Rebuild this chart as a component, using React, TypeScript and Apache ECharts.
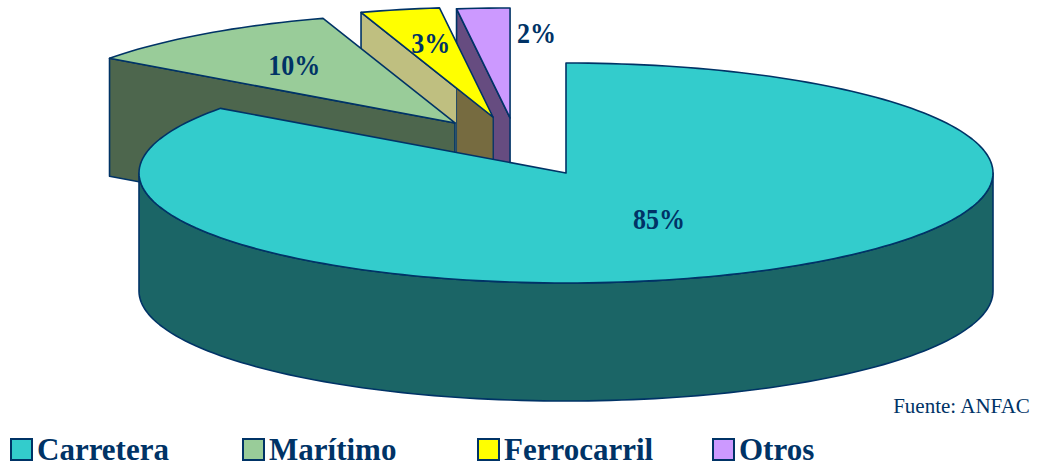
import React, { useEffect, useRef } from "react";
import * as echarts from "echarts";

// ---- data ----
const categories = ["Carretera", "Marítimo", "Ferrocarril", "Otros"];
const shares = [85, 10, 3, 2];
const sliceLabels = ["85%", "10%", "3%", "2%"];
const sourceNote = "Fuente: ANFAC";

// ---- styles ----
const topColors = ["#33CCCC", "#99CC99", "#FFFF00", "#CC99FF"];
const sideColors = ["#1B6566", "#4D664D", "#BFBF80", "#664C80"];
const overlapShade: (string | null)[] = [null, null, "#766B40", null];
const NAVY = "#003366";
const FONT = "'Liberation Serif', 'Times New Roman', serif";

// ---- layout of the 3D pie (pixels / fractions of radius) ----
const CX = 566;
const CY = 173;
const RX = 427;
const RY = 110;
const DEPTH = 118;
const EXPLODE = [
  [0, 0],
  [-0.26, -0.455],
  [-0.171, -0.509],
  [-0.131, -0.5],
];
const LABEL_FRAC = [0.48, 0.64, 0.69, 0.77];
const LABEL_SHIFT = [
  [0, 0],
  [0, 0],
  [2, 1],
  [47, 0],
];
const LEGEND_LEFT = [10, 242, 477, 712];

const rad = (a: number) => (a * Math.PI) / 180;
const total = shares.reduce((s, v) => s + v, 0);

function sliceAngles(i: number) {
  let before = 0;
  for (let j = 0; j < i; j++) before += shares[j];
  return [(before / total) * 360, ((before + shares[i]) / total) * 360];
}

function origin(i: number) {
  return [CX + EXPLODE[i][0] * RX, CY + EXPLODE[i][1] * RY];
}

function pt(o: number[], a: number, dy = 0) {
  return [o[0] + RX * Math.sin(rad(a)), o[1] - RY * Math.cos(rad(a)) + dy];
}

function arc(o: number[], a0: number, a1: number, dy = 0) {
  const pts: number[][] = [];
  const n = Math.max(2, Math.ceil(Math.abs(a1 - a0) / 1.5));
  for (let k = 0; k <= n; k++) pts.push(pt(o, a0 + ((a1 - a0) * k) / n, dy));
  return pts;
}

function makeRender(i: number) {
  return (_params: any, _api: any) => {
    const [a0, a1] = sliceAngles(i);
    const o = origin(i);
    const children: any[] = [];
    const stroke = { stroke: NAVY, lineWidth: 1.6, lineJoin: "round" };
    let z = 1;

    // start radial face
    if (Math.cos(rad(a0 - 90)) < -1e-6) {
      const p = pt(o, a0);
      children.push({
        type: "polygon",
        z2: z++,
        shape: { points: [o, p, [p[0], p[1] + DEPTH], [o[0], o[1] + DEPTH]] },
        style: { fill: sideColors[i], ...stroke },
      });
      const shade = overlapShade[i];
      if (shade && i + 1 < shares.length) {
        const [n0] = sliceAngles(i + 1);
        const xs = pt(origin(i + 1), n0)[0];
        const xl = p[0];
        const xr = o[0];
        if (xs > Math.min(xl, xr) && xs < Math.max(xl, xr)) {
          const ys = p[1] + ((o[1] - p[1]) * (xs - xl)) / (xr - xl);
          children.push({
            type: "polygon",
            z2: z++,
            shape: { points: [[xs, ys], o, [o[0], o[1] + DEPTH], [xs, ys + DEPTH]] },
            style: { fill: shade, stroke: NAVY, lineWidth: 0.8 },
          });
        }
      }
    }
    // end radial face
    if (Math.cos(rad(a1 + 90)) < -1e-6) {
      const p = pt(o, a1);
      children.push({
        type: "polygon",
        z2: z++,
        shape: { points: [o, p, [p[0], p[1] + DEPTH], [o[0], o[1] + DEPTH]] },
        style: { fill: sideColors[i], ...stroke },
      });
    }
    // curved outer side (front half only)
    const b0 = Math.max(a0, 90);
    const b1 = Math.min(a1, 270);
    if (b1 > b0) {
      const pts = arc(o, b0, b1).concat(arc(o, b1, b0, DEPTH));
      children.push({
        type: "polygon",
        z2: z++,
        shape: { points: pts },
        style: { fill: sideColors[i], ...stroke },
      });
    }
    // top surface
    children.push({
      type: "polygon",
      z2: z++,
      shape: { points: [o].concat(arc(o, a0, a1)) },
      style: { fill: topColors[i], ...stroke },
    });
    // label
    const mid = (a0 + a1) / 2;
    const f = LABEL_FRAC[i];
    children.push({
      type: "text",
      z2: 50,
      x: o[0] + RX * f * Math.sin(rad(mid)) + LABEL_SHIFT[i][0],
      y: o[1] - RY * f * Math.cos(rad(mid)) + LABEL_SHIFT[i][1],
      scaleY: 1.1,
      style: {
        text: sliceLabels[i],
        fill: NAVY,
        fontSize: 26,
        fontWeight: "bold",
        fontFamily: FONT,
        align: "center",
        verticalAlign: "middle",
      },
    });
    return { type: "group", children };
  };
}

export default function App() {
  const ref = useRef<HTMLDivElement>(null);
  useEffect(() => {
    if (!ref.current) return;
    const chart = echarts.init(ref.current, undefined, { renderer: "svg" });
    chart.setOption({
      animation: false,
      backgroundColor: "#FFFFFF",
      title: {
        text: sourceNote,
        right: 4,
        top: 390,
        textStyle: {
          color: NAVY,
          fontSize: 21,
          fontWeight: "normal",
          fontFamily: FONT,
        },
      },
      legend: categories.map((name, i) => ({
        left: LEGEND_LEFT[i],
        top: 434,
        padding: 0,
        icon: "rect",
        itemWidth: 21,
        itemHeight: 21,
        selectedMode: false,
        data: [name],
        itemStyle: { borderColor: NAVY, borderWidth: 2 },
        textStyle: {
          color: NAVY,
          fontSize: 31,
          lineHeight: 28,
          fontWeight: "bold",
          fontFamily: FONT,
        },
      })),
      series: categories.map((name, i) => ({
        type: "custom",
        name,
        coordinateSystem: "none",
        z: 10 - i,
        itemStyle: { color: topColors[i] },
        data: [shares[i]],
        renderItem: makeRender(i),
      })),
    });
    return () => chart.dispose();
  }, []);
  return (
    <div
      ref={ref}
      style={{ position: "absolute", left: 0, top: 0, width: 1040, height: 467 }}
    />
  );
}
